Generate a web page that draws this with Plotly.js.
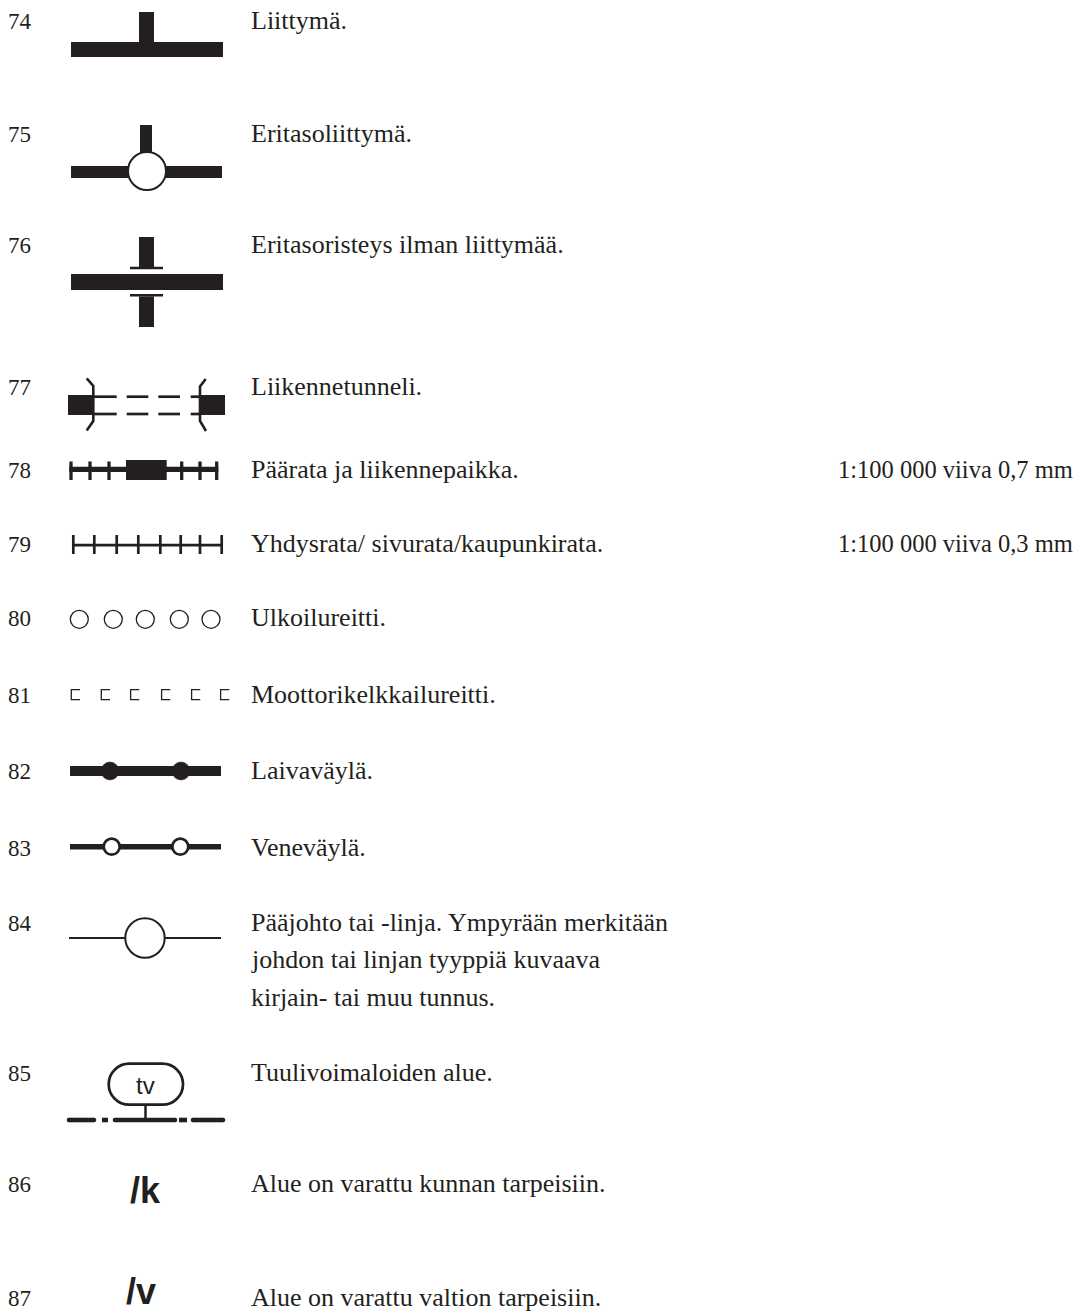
<!DOCTYPE html>
<html><head><meta charset="utf-8">
<script src="https://cdn.plot.ly/plotly-3.0.1.min.js"></script>
<style>html,body{margin:0;padding:0;background:#fff;overflow:hidden}</style>
</head><body><div id="chart" style="width:1079px;height:1311px"></div>
<script>
// ---------- DATA ----------
const codes = ['74','75','76','77','78','79','80','81','82','83','84','85','86','87'];
const descriptions = [
  'Liittymä.',
  'Eritasoliittymä.',
  'Eritasoristeys ilman liittymää.',
  'Liikennetunneli.',
  'Päärata ja liikennepaikka.',
  'Yhdysrata/ sivurata/kaupunkirata.',
  'Ulkoilureitti.',
  'Moottorikelkkailureitti.',
  'Laivaväylä.',
  'Veneväylä.',
  'Pääjohto tai -linja. Ympyrään merkitään\njohdon tai linjan tyyppiä kuvaava\nkirjain- tai muu tunnus.',
  'Tuulivoimaloiden alue.',
  'Alue on varattu kunnan tarpeisiin.',
  'Alue on varattu valtion tarpeisiin.'
];
const scaleNotes = ['', '', '', '', '1:100 000 viiva 0,7 mm', '1:100 000 viiva 0,3 mm', '', '', '', '', '', '', '', ''];
const symbolTexts = ['', '', '', '', '', '', '', '', '', '', '', 'tv', '/k', '/v'];

// ---------- LAYOUT / STYLE ----------
const W = 1079, H = 1311;
const INK = '#231f20';
const SERIF = '"Liberation Serif", "Times New Roman", serif';
const SANS = '"Liberation Sans", Arial, sans-serif';
const rowBaseline = [29,142,253,395,478,552,626,703,779,856,931,1081,1192,1306];
const LINE_GAP = 37.5;
const NUM_X = 8, DESC_X = 251, NOTE_X = 1073;

// helpers (coordinates in axis units = pixels)
const rect = (x0,y0,x1,y1,fill) => ({type:'rect',xref:'x',yref:'y',x0,y0,x1,y1,fillcolor:fill||INK,line:{width:0}});
const seg = (x0,y0,x1,y1,w) => ({type:'line',xref:'x',yref:'y',x0,y0,x1,y1,line:{color:INK,width:w}});
const circ = (cx,cy,r,w,fill) => ({type:'circle',xref:'x',yref:'y',x0:cx-r,x1:cx+r,y0:cy-r,y1:cy+r,
  fillcolor:fill,line:{color:INK,width:w}});
const path = (d,w,fill) => ({type:'path',xref:'x',yref:'y',path:d,fillcolor:fill||'rgba(0,0,0,0)',line:{color:INK,width:w}});
function stadium(x0,y0,x1,y1,w){
  const r=(y1-y0)/2, k=0.5523*r, cy=(y0+y1)/2, a=x0+r, b=x1-r;
  const d=`M ${a} ${y0} L ${b} ${y0} C ${b+k} ${y0} ${x1} ${cy-k} ${x1} ${cy} C ${x1} ${cy+k} ${b+k} ${y1} ${b} ${y1} `+
          `L ${a} ${y1} C ${a-k} ${y1} ${x0} ${cy+k} ${x0} ${cy} C ${x0} ${cy-k} ${a-k} ${y0} ${a} ${y0} Z`;
  return path(d,w,'white');
}

const symbols = {
  '74': () => [rect(71,42,223,57), rect(139,12,154,42)],
  '75': () => [rect(71,166,222,178), rect(140,125,152,160), circ(147,171,19,2,'white')],
  '76': () => [rect(139,237,154,267), rect(130,266.8,163,269.2), rect(71,274,223,290),
               rect(130,294,163,296.4), rect(139,296.4,154,327)],
  '77': () => {
    const out=[rect(68,395,93.3,415), rect(200,395,225,415)];
    const dashes=[[93.3,116.7],[126.7,148.3],[158.3,180],[190.7,200]];
    [396.7,414].forEach(y=>dashes.forEach(([a,b])=>out.push(rect(a,y-1.35,b,y+1.35))));
    out.push(path('M 86.7 378.3 L 93.3 386 L 93.3 421 L 86.7 430.5',2.6));
    out.push(path('M 205.7 379 L 200 386.5 L 200 421 L 206 431',2.6));
    return out;
  },
  '78': () => {
    const out=[rect(69.3,466.7,218.3,472), rect(126,460,166.7,480)];
    [71,90,109,181.7,200,216.7].forEach(x=>out.push(rect(x-1.65,461.5,x+1.65,480)));
    return out;
  },
  '79': () => {
    const out=[rect(73,543.7,222,546.4)];
    [73.3,94.3,116.7,138.3,160.3,180.7,200,221.7].forEach(x=>out.push(rect(x-1.35,535,x+1.35,554)));
    return out;
  },
  '80': () => [79.3,113.3,145.3,179.3,211].map(x=>circ(x,619.3,9,1.3,'white')),
  '81': () => [70.7,100.7,130,161,191,220].map(x=>path(`M ${x+9.3} 689.6 L ${x+0.6} 689.6 L ${x+0.6} 699.6 L ${x+9.3} 699.6`,1.3)),
  '82': () => [rect(70,766,221,776), circ(110,771,9,0.5,INK), circ(181,771,9,0.5,INK)],
  '83': () => [rect(70,844,221,849.4), circ(111.7,846.7,8,2.7,'white'), circ(180.3,846.7,8,2.7,'white')],
  '84': () => [seg(69,938,221,938,2), circ(145,938,19.7,2,'white')],
  '85': () => {
    const out=[stadium(108.7,1063.7,183,1104.7,2.7), seg(145.5,1105.5,145.5,1119,2.5)];
    [[69,94],[102,108],[115,175],[179,187],[193,223]].forEach(([a,b])=>out.push(rect(a,1117.7,b,1122.3)));
    [[69,94],[115,175],[193,223]].forEach(([a,b])=>{out.push(circ(a,1120,2.3,0,INK));out.push(circ(b,1120,2.3,0,INK));});
    return out;
  },
  '86': () => [],
  '87': () => []
};

// text placement: annotation middle = baseline - offset*size
function txt(x, baseline, text, size, family, anchor, off, weight){
  return {xref:'x', yref:'y', x, y: baseline - off*size, text, showarrow:false,
    xanchor:anchor, yanchor:'middle', borderpad:0, borderwidth:0,
    font:{family, size, color:INK, weight: weight||'normal'}};
}
const SERIF_OFF = 0.3375, SANS_OFF = 0.3465;

const shapes = [];
const annotations = [];
codes.forEach((c,i)=>{
  const base = rowBaseline[i];
  annotations.push(txt(NUM_X, base, c, 23, SERIF, 'left', SERIF_OFF));
  descriptions[i].split('\n').forEach((line,j)=>{
    annotations.push(txt(DESC_X, base + j*LINE_GAP, line, 26, SERIF, 'left', SERIF_OFF));
  });
  if (scaleNotes[i]) annotations.push(txt(NOTE_X, base, scaleNotes[i], 24.5, SERIF, 'right', SERIF_OFF));
  (symbols[c]() || []).forEach(s=>shapes.push(s));
});
// symbol texts
annotations.push(txt(145.7, 1094, symbolTexts[11], 24, SANS, 'center', SANS_OFF));
annotations.push(txt(145, 1202.5, symbolTexts[12], 36, SANS, 'center', SANS_OFF, 'bold'));
annotations.push(txt(141, 1303.5, symbolTexts[13], 36, SANS, 'center', SANS_OFF, 'bold'));

const layout = {
  width: W, height: H,
  margin: {l:0, r:0, t:0, b:0, pad:0},
  paper_bgcolor: '#ffffff', plot_bgcolor: '#ffffff',
  showlegend: false,
  xaxis: {range:[0, W], visible:false, fixedrange:true},
  yaxis: {range:[H, 0], visible:false, fixedrange:true},
  shapes, annotations
};
Plotly.newPlot('chart', [], layout, {staticPlot:true, displayModeBar:false});
</script>
</body></html>
